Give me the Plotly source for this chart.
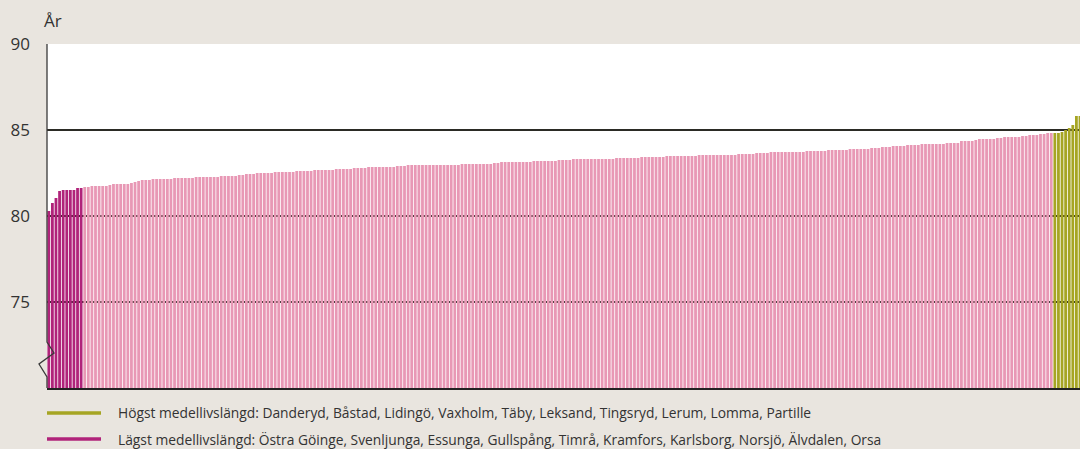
import plotly.graph_objects as go

# Medellivslängd (år) per kommun, sorterad stigande
lowest = [80.29, 80.76, 81.05, 81.45, 81.51, 81.51, 81.51, 81.51, 81.63, 81.63]

middle = [
    81.69, 81.69, 81.74, 81.74, 81.74, 81.74, 81.74, 81.80, 81.86, 81.86,
    81.86, 81.86, 81.86, 81.92, 81.98, 82.03, 82.09, 82.09, 82.09, 82.15,
    82.15, 82.15, 82.15, 82.15, 82.15, 82.21, 82.21, 82.21, 82.21, 82.21,
    82.21, 82.27, 82.27, 82.27, 82.27, 82.27, 82.27, 82.27, 82.33, 82.33,
    82.33, 82.33, 82.33, 82.38, 82.38, 82.44, 82.44, 82.44, 82.50, 82.50,
    82.50, 82.50, 82.50, 82.56, 82.56, 82.56, 82.56, 82.56, 82.56, 82.62,
    82.62, 82.62, 82.62, 82.62, 82.67, 82.67, 82.67, 82.67, 82.67, 82.67,
    82.73, 82.73, 82.73, 82.73, 82.73, 82.79, 82.79, 82.79, 82.79, 82.85,
    82.85, 82.85, 82.85, 82.85, 82.85, 82.85, 82.85, 82.91, 82.91, 82.91,
    82.97, 82.97, 82.97, 82.97, 82.97, 82.97, 82.97, 82.97, 82.97, 82.97,
    82.97, 82.97, 82.97, 82.97, 82.97, 83.02, 83.02, 83.02, 83.02, 83.02,
    83.02, 83.02, 83.02, 83.02, 83.08, 83.08, 83.14, 83.14, 83.14, 83.14,
    83.14, 83.14, 83.14, 83.14, 83.14, 83.20, 83.20, 83.20, 83.20, 83.20,
    83.20, 83.20, 83.26, 83.26, 83.26, 83.26, 83.31, 83.31, 83.31, 83.31,
    83.31, 83.31, 83.31, 83.31, 83.31, 83.31, 83.31, 83.31, 83.37, 83.37,
    83.37, 83.37, 83.37, 83.37, 83.37, 83.43, 83.43, 83.43, 83.43, 83.43,
    83.43, 83.43, 83.49, 83.49, 83.49, 83.49, 83.49, 83.49, 83.49, 83.49,
    83.49, 83.55, 83.55, 83.55, 83.55, 83.55, 83.55, 83.55, 83.55, 83.55,
    83.55, 83.55, 83.60, 83.60, 83.60, 83.60, 83.60, 83.66, 83.66, 83.66,
    83.66, 83.72, 83.72, 83.72, 83.72, 83.72, 83.72, 83.72, 83.72, 83.72,
    83.72, 83.78, 83.78, 83.78, 83.78, 83.78, 83.78, 83.84, 83.84, 83.84,
    83.84, 83.84, 83.84, 83.90, 83.90, 83.90, 83.90, 83.90, 83.90, 83.95,
    83.95, 83.95, 84.01, 84.01, 84.01, 84.07, 84.07, 84.07, 84.07, 84.13,
    84.13, 84.13, 84.13, 84.19, 84.19, 84.19, 84.19, 84.19, 84.19, 84.19,
    84.24, 84.24, 84.24, 84.24, 84.36, 84.36, 84.36, 84.36, 84.42, 84.48,
    84.48, 84.48, 84.48, 84.48, 84.53, 84.53, 84.59, 84.59, 84.59, 84.59,
    84.59, 84.65, 84.65, 84.71, 84.71, 84.71, 84.77, 84.77, 84.83, 84.83,
]

highest = [84.83, 84.83, 84.88, 85.00, 85.12, 85.29, 85.81, 85.81, 85.90, 86.10]

y_ticks = [75, 80, 85, 90]
y_label = "År"
legend_high = "Högst medellivslängd: Danderyd, Båstad, Lidingö, Vaxholm, Täby, Leksand, Tingsryd, Lerum, Lomma, Partille"
legend_low = "Lägst medellivslängd: Östra Göinge, Svenljunga, Essunga, Gullspång, Timrå, Kramfors, Karlsborg, Norsjö, Älvdalen, Orsa"

C_LOW = "#B0237A"
C_MID = "#E898B5"
C_HIGH = "#A6A523"
BG = "#E9E5DF"
TXT = "#333333"
FONT = "Open Sans"

n_low, n_mid, n_high = len(lowest), len(middle), len(highest)
x_low = list(range(0, n_low))
x_mid = list(range(n_low, n_low + n_mid))
x_high = list(range(n_low + n_mid, n_low + n_mid + n_high))

fig = go.Figure()
for xs, ys, col in [(x_low, lowest, C_LOW), (x_mid, middle, C_MID), (x_high, highest, C_HIGH)]:
    fig.add_trace(go.Bar(x=xs, y=ys, marker=dict(color=col, line=dict(width=0)),
                         showlegend=False, hoverinfo="y"))

fig.update_layout(
    width=1080, height=449,
    margin=dict(l=47, r=0, t=44, b=61),
    paper_bgcolor=BG, plot_bgcolor="white",
    bargap=0.22,
    font=dict(family=FONT, color=TXT),
    xaxis=dict(range=[-0.5, 287.0], showticklabels=False, ticks="", showgrid=False,
               zeroline=False, showline=True, linecolor="#222222", linewidth=1.5),
    yaxis=dict(range=[70, 90], tickvals=y_ticks, ticktext=[str(v) for v in y_ticks],
               showgrid=True, gridcolor="#2b2b25", gridwidth=1.5, zeroline=False,
               showline=False, ticks="", ticklabelstandoff=16,
               tickfont=dict(size=17, color=TXT, family=FONT)),
)

# Left axis line with a break (zigzag)
fig.add_shape(type="path", xref="paper", yref="paper", xsizemode="pixel", xanchor=0,
              path="M 0,1 L 0,0.1337 L 7,0.1017 L -8,0.0698 L 0,0.032 L 0,0",
              line=dict(color="#3a3a3a", width=1.3), layer="above")

# "År" label
fig.add_annotation(text=y_label, xref="paper", yref="paper", x=0, y=1,
                   xanchor="left", yanchor="bottom", xshift=-5, yshift=10,
                   showarrow=False, font=dict(size=17, color=TXT, family=FONT))

# Legend rows (line sample + text)
for ypx, col, txt in [(413, C_HIGH, legend_high), (439, C_LOW, legend_low)]:
    yp = (388 - ypx) / 344.0
    fig.add_shape(type="line", xref="paper", yref="paper", xsizemode="pixel", xanchor=0,
                  x0=0, x1=54, y0=yp, y1=yp, line=dict(color=col, width=3.5))
    fig.add_annotation(text=txt, xref="paper", yref="paper", x=0, y=yp,
                       xanchor="left", yanchor="middle", xshift=69,
                       showarrow=False, font=dict(size=13.8, color=TXT, family=FONT))

fig.write_html("out.html",
               config={"displayModeBar": False},
               post_script="document.body.style.margin='0';document.body.style.overflow='hidden';")
